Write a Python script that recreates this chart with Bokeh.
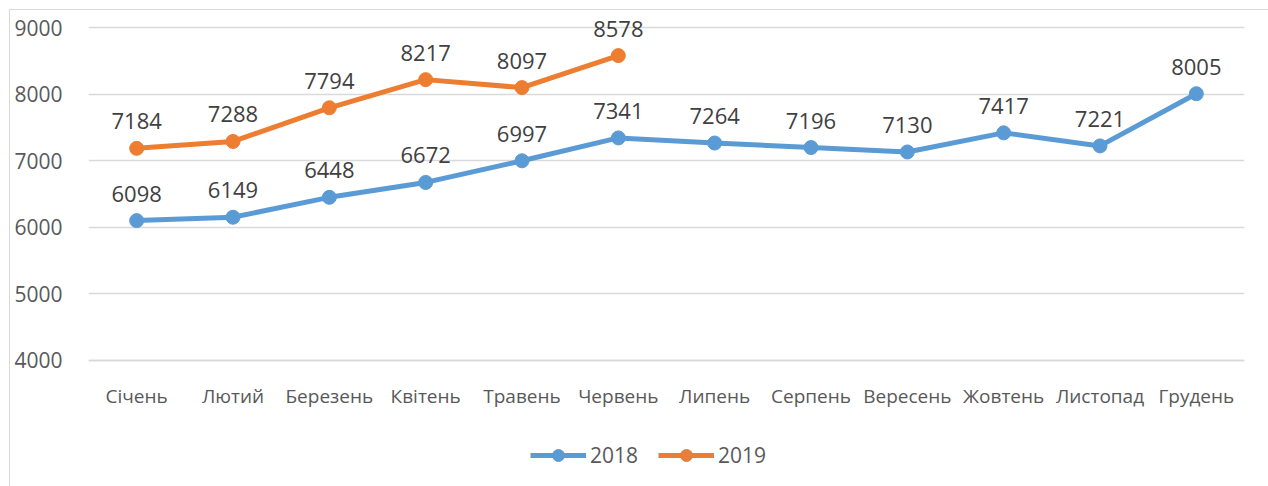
from bokeh.plotting import figure
from bokeh.models import Legend, LegendItem, FixedTicker, ColumnDataSource
from bokeh.core.properties import value
from bokeh.embed import file_html
from bokeh.resources import INLINE

months = ["Січень", "Лютий", "Березень", "Квітень", "Травень", "Червень",
          "Липень", "Серпень", "Вересень", "Жовтень", "Листопад", "Грудень"]
values_2018 = [6098, 6149, 6448, 6672, 6997, 7341, 7264, 7196, 7130, 7417, 7221, 8005]
values_2019 = [7184, 7288, 7794, 8217, 8097, 8578]
y_ticks = [4000, 5000, 6000, 7000, 8000, 9000]

FONT = "Open Sans"
BLUE = "#5B9BD5"
ORANGE = "#ED7D31"

p = figure(width=1259, height=477, x_range=months, y_range=(2087, 9256),
           output_backend="svg", toolbar_location=None,
           min_border_left=78, min_border_right=25, min_border_top=0, min_border_bottom=0)
p.styles = {"margin-left": "9px", "margin-top": "9px",
            "border-left": "1px solid #d9d9d9", "border-top": "1px solid #d9d9d9"}
p.outline_line_color = None
p.xgrid.grid_line_color = None
p.ygrid.grid_line_color = "#d9d9d9"
p.ygrid.grid_line_width = 1.5
p.yaxis.ticker = FixedTicker(ticks=y_ticks)
for ax in (p.xaxis[0], p.yaxis[0]):
    ax.axis_line_color = None
    ax.major_tick_line_color = None
    ax.minor_tick_line_color = None
    ax.major_label_text_font = FONT
    ax.major_label_text_color = "#595959"
p.xaxis.fixed_location = y_ticks[0]
p.xaxis.axis_line_color = "#d9d9d9"
p.xaxis.axis_line_width = 1.5
p.xaxis.major_label_text_font_size = "19px"
p.yaxis.major_label_text_font_size = "21px"
p.xaxis.major_label_standoff = 17
p.yaxis.major_label_standoff = 20

src18 = ColumnDataSource(dict(x=months, y=values_2018, t=[str(v) for v in values_2018]))
src19 = ColumnDataSource(dict(x=months[:len(values_2019)], y=values_2019,
                              t=[str(v) for v in values_2019]))

l18 = p.line("x", "y", source=src18, line_color=BLUE, line_width=5)
s18 = p.scatter("x", "y", source=src18, size=14, fill_color=BLUE, line_color=BLUE)
l19 = p.line("x", "y", source=src19, line_color=ORANGE, line_width=5)
s19 = p.scatter("x", "y", source=src19, size=14, fill_color=ORANGE, line_color=ORANGE)

for src in (src18, src19):
    p.text("x", "y", text="t", source=src, y_offset=-27, text_align="center",
           text_baseline="middle", text_font=value(FONT), text_font_size="22px",
           text_color="#404040")

legend = Legend(items=[LegendItem(label="2018", renderers=[l18, s18]),
                       LegendItem(label="2019", renderers=[l19, s19])],
                orientation="horizontal", location=(442, 17),
                label_text_font=FONT, label_text_font_size="21px",
                label_text_color="#595959", glyph_width=56, glyph_height=30,
                label_standoff=4, spacing=20, padding=0, margin=0,
                border_line_color=None, background_fill_alpha=0)
p.add_layout(legend, "center")

open("out.html", "w").write(file_html(p, INLINE))
